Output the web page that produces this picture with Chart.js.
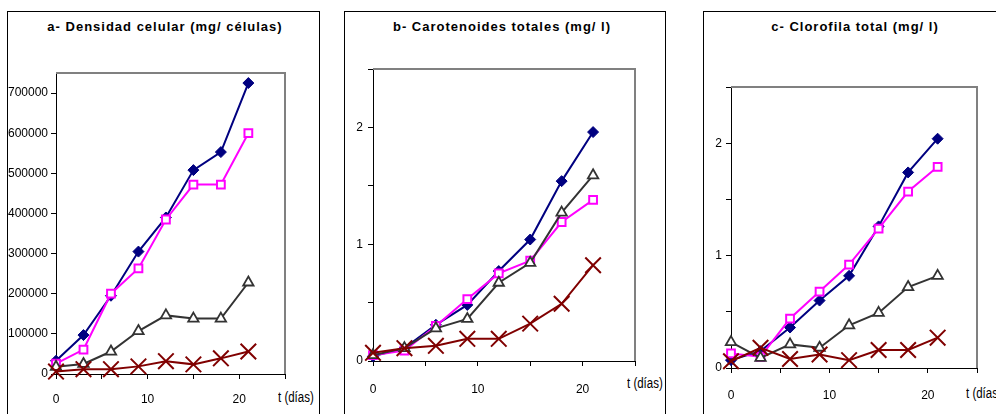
<!DOCTYPE html>
<html>
<head>
<meta charset="utf-8">
<script src="https://cdn.jsdelivr.net/npm/chart.js@4"></script>
<style>
  html, body { margin:0; padding:0; background:#fff; }
  body { width:996px; height:414px; position:relative; overflow:hidden; font-family:'Liberation Sans', Arial, sans-serif; }
  .box { position:absolute; border:1px solid #000; box-sizing:border-box; }
  .title { position:absolute; text-align:center; font-weight:bold; font-size:13px; letter-spacing:1px; line-height:16px; color:#000; white-space:nowrap; }
  .xt { position:absolute; font-size:14px; line-height:16px; color:#000; white-space:nowrap; transform:scaleX(0.82); transform-origin:left center; }
  canvas { position:absolute; }
</style>
</head>
<body>
<div class="box" style="left:7px;top:11px;width:313px;height:420px;"></div>
<div class="box" style="left:344px;top:11px;width:322px;height:420px;"></div>
<div class="box" style="left:703px;top:11px;width:320px;height:420px;"></div>

<div class="title" style="left:15px;width:300px;top:19px;">a- Densidad celular (mg/ células)</div>
<div class="title" style="left:352px;width:300px;top:19px;">b- Carotenoides totales (mg/ l)</div>
<div class="title" style="left:705px;width:300px;top:19px;">c- Clorofila total (mg/ l)</div>

<div class="xt" style="left:278px;top:389px;">t (días)</div>
<div class="xt" style="left:627px;top:375px;">t (días)</div>
<div class="xt" style="left:966px;top:385px;">t (días)</div>

<canvas id="ca"></canvas>
<canvas id="cb"></canvas>
<canvas id="cc"></canvas>

<script>
// ---- data ----
const days = [0, 3, 6, 9, 12, 15, 18, 21];

const densBlue = [33000, 97000, 195000, 305000, 390000, 508000, 553000, 725000];
const densPink = [26000, 61000, 200000, 263000, 385000, 472000, 472000, 600000];
const densGray = [18000, 25000, 56000, 107000, 146000, 138000, 138000, 228000];
const densRed  = [6000, 12000, 12000, 19000, 32000, 24000, 39000, 56000];

const carBlue = [0.04, 0.11, 0.31, 0.48, 0.77, 1.04, 1.54, 1.96];
const carPink = [0.05, 0.09, 0.30, 0.53, 0.75, 0.86, 1.19, 1.38];
const carGray = [0.05, 0.11, 0.28, 0.36, 0.67, 0.84, 1.27, 1.59];
const carRed  = [0.07, 0.11, 0.13, 0.19, 0.19, 0.32, 0.49, 0.82];

const cloBlue = [0.07, 0.15, 0.36, 0.60, 0.82, 1.26, 1.74, 2.04];
const cloPink = [0.13, 0.10, 0.44, 0.68, 0.92, 1.24, 1.57, 1.79];
const cloGray = [0.23, 0.09, 0.21, 0.18, 0.38, 0.49, 0.72, 0.82];
const cloRed  = [0.06, 0.18, 0.08, 0.12, 0.07, 0.16, 0.16, 0.27];

// tick positions and labels
const xTicks = [0, 5, 10, 15, 20, 25];
const xLabels = ['0', '', '10', '', '20', ''];
const densTicks = [0, 100000, 200000, 300000, 400000, 500000, 600000, 700000];
const densLabels = ['0', '100000', '200000', '300000', '400000', '500000', '600000', '700000'];
const mgTicks = [0, 0.5, 1, 1.5, 2, 2.5];
const mgLabels = ['0', '', '1', '', '2', ''];

// ---- styles ----
const styles = {
  blue: { borderColor:'#000080', backgroundColor:'#000080', pointStyle:'rectRot', pointRadius:5.5, pointBorderWidth:1, borderWidth:2, order:4 },
  pink: { borderColor:'#FF00FF', backgroundColor:'#FFFFFF', pointStyle:'rect', pointRadius:5.5, pointBorderWidth:2, borderWidth:2, order:3 },
  gray: { borderColor:'#333333', backgroundColor:'#FFFFFF', pointStyle:'triangle', pointRadius:6, pointBorderWidth:1.8, borderWidth:2, order:2 },
  red:  { borderColor:'#800000', backgroundColor:'#800000', pointStyle:'crossRot', pointRadius:11, pointBorderWidth:2, borderWidth:2, order:1 }
};

function series(ys, st) {
  return Object.assign({ data: days.map((d, i) => ({ x: d, y: ys[i] })), tension:0, clip:false, pointHoverRadius: st.pointRadius }, st);
}

const frame = {
  id: 'frame',
  beforeDatasetsDraw(chart) {
    const { ctx, chartArea: { left, right, top, bottom } } = chart;
    ctx.save();
    ctx.strokeStyle = '#808080';
    ctx.lineWidth = 2;
    ctx.beginPath();
    ctx.moveTo(left, top);
    ctx.lineTo(right, top);
    ctx.lineTo(right, bottom);
    ctx.stroke();
    ctx.restore();
  }
};

const tickFont = { family: "'Liberation Sans', Arial, sans-serif", size: 12 };

function makeChart(id, box, plot, ysets, yMax, yTickVals, yTickLabels) {
  const cv = document.getElementById(id);
  const cl = box.l + 1, ct = box.t + 1;
  const cw = Math.min(box.r, 996) - cl, ch = 414 - ct;
  cv.style.left = cl + 'px'; cv.style.top = ct + 'px';
  cv.width = cw; cv.height = ch;
  cv.style.width = cw + 'px'; cv.style.height = ch + 'px';
  const yW = plot.L - cl, xH = 414 - plot.B;
  new Chart(cv, {
    type: 'line',
    data: { datasets: [series(ysets[0], styles.blue), series(ysets[1], styles.pink), series(ysets[2], styles.gray), series(ysets[3], styles.red)] },
    options: {
      responsive: false, animation: false, devicePixelRatio: 1, events: [],
      layout: { padding: { top: plot.T - ct, right: cl + cw - plot.R, left: 0, bottom: 0 } },
      plugins: { legend: { display: false }, tooltip: { enabled: false }, title: { display: false } },
      scales: {
        x: {
          type: 'linear', min: xTicks[0], max: xTicks[xTicks.length - 1],
          afterFit(s) { s.height = xH; },
          afterBuildTicks(s) { s.ticks = xTicks.map(v => ({ value: v })); },
          border: { display: true, color: '#000', width: 1 },
          grid: { drawOnChartArea: false, drawTicks: true, tickLength: 5, color: '#000' },
          ticks: { padding: plot.xpad, color: '#000', font: tickFont, maxRotation: 0, autoSkip: false,
                   callback: (v, i) => xLabels[xTicks.indexOf(v)] ?? '' }
        },
        y: {
          type: 'linear', min: 0, max: yMax,
          afterFit(s) { s.width = yW; },
          afterBuildTicks(s) { s.ticks = yTickVals.map(v => ({ value: v })); },
          border: { display: true, color: '#000', width: 1 },
          grid: { drawOnChartArea: false, drawTicks: true, tickLength: 5, color: '#000' },
          ticks: { padding: plot.ypad, color: '#000', font: tickFont, autoSkip: false,
                   callback: (v) => yTickLabels[yTickVals.indexOf(v)] ?? '' }
        }
      }
    },
    plugins: [frame]
  });
}

makeChart('ca', { l:7, t:11, r:319 }, { L:56, R:285, T:73, B:374, xpad:13, ypad:3 },
  [densBlue, densPink, densGray, densRed], 750000, densTicks, densLabels);

makeChart('cb', { l:344, t:11, r:665 }, { L:373, R:635, T:69, B:361, xpad:16, ypad:5 },
  [carBlue, carPink, carGray, carRed], 2.5, mgTicks, mgLabels);

makeChart('cc', { l:703, t:11, r:1010 }, { L:731, R:977, T:87, B:368, xpad:15, ypad:4 },
  [cloBlue, cloPink, cloGray, cloRed], 2.5, mgTicks, mgLabels);
</script>
</body>
</html>
